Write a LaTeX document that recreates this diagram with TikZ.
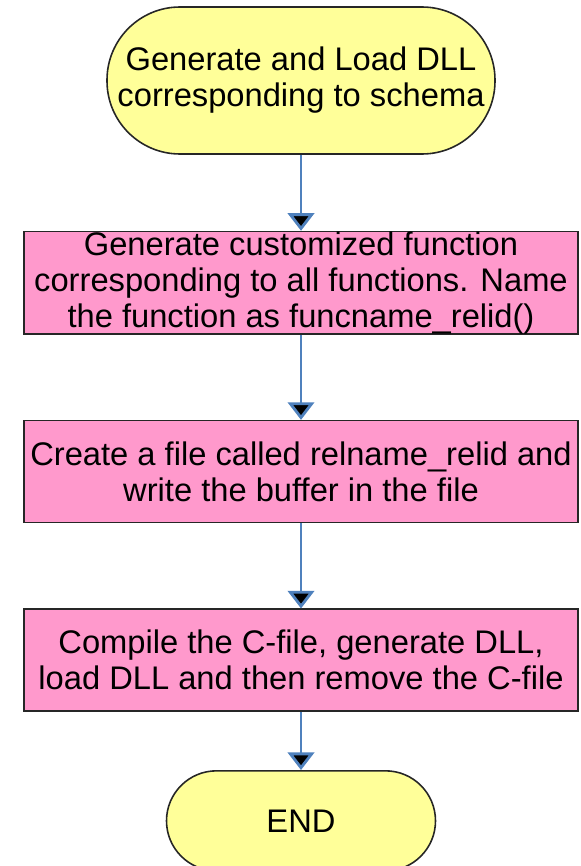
\documentclass[tikz,border=0pt]{standalone}
\usepackage{fontspec}
\setmainfont{Liberation Sans}
\usetikzlibrary{arrows.meta,positioning}
\definecolor{termyellow}{RGB}{255,255,153}
\definecolor{procpink}{RGB}{255,153,204}
\definecolor{flowblue}{RGB}{79,129,189}

\begin{document}
\begin{tikzpicture}[>={Triangle[width=15pt,length=10pt]},
	font=\fontsize{18.6pt}{20.5pt}\selectfont,
	terminal/.style={rectangle,draw=black!85,line width=0.9pt,fill=termyellow,
		align=center,inner sep=0pt},
	process/.style={rectangle,draw=black!85,line width=0.9pt,fill=procpink,
		minimum width=11.08cm,minimum height=2.04cm,align=center,inner sep=0pt},
	flow/.style={->,draw=flowblue,line width=1.6pt}]
	\useasboundingbox (0,0) rectangle (11.6,-17.32);
	\node[terminal,rounded corners=1.46cm,minimum width=7.76cm,minimum height=2.94cm]
		(start) at (6.02,-1.61) {Generate and Load DLL\\corresponding to schema};
	\node[process](func)[below=1.52cm of start]{Generate customized function\\
		corresponding to all functions. Name\\the function as funcname\_relid()};
	\node[process](file)[below=1.7cm of func]{Create a file called relname\_relid and\\
		write the buffer in the file};
	\node[process](compile)[below=1.7cm of file]{Compile the C-file, generate DLL,\\
		load DLL and then remove the C-file};
	\node[terminal,rounded corners=1cm,minimum width=5.38cm,minimum height=2cm]
		(stop)[below=1.16cm of compile]{END};

	\path[flow] (start) edge (func)
		(func) edge (file)
		(file) edge (compile)
		(compile) edge (stop);
\end{tikzpicture}
\end{document}
